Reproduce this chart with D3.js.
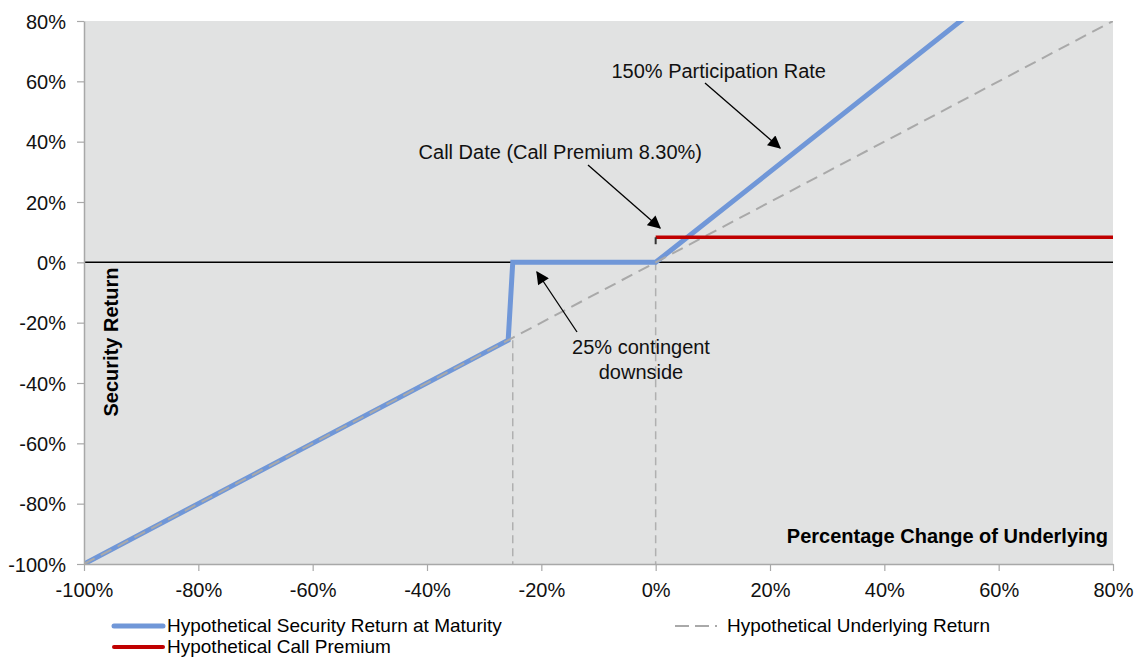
<!DOCTYPE html>
<html><head><meta charset="utf-8">
<script src="https://cdn.jsdelivr.net/npm/d3@7"></script>
<style>body{margin:0;background:#fff;} text{font-family:"Liberation Sans",Arial,sans-serif;}</style>
</head><body>
<svg id="c" width="1135" height="658"></svg>
<script>
const xTicks = [-100,-80,-60,-40,-20,0,20,40,60,80];
const yTicks = [-100,-80,-60,-40,-20,0,20,40,60,80];
const securityX = [-100,-25.8,-25,0,80];
const securityY = [-100,-25.8,0,0,120];
const underlyingX = [-100,80];
const underlyingY = [-100,80];
const premiumX = [0,80];
const premiumY = [8.3,8.3];
const seriesNames = ["Hypothetical Security Return at Maturity","Hypothetical Underlying Return","Hypothetical Call Premium"];

const svg = d3.select("#c");
const L=84,R=1113,T=21,B=564;
const x = d3.scaleLinear().domain([-100,80]).range([L,R]);
const y = d3.scaleLinear().domain([-100,80]).range([B,T]);

const defs = svg.append("defs");
defs.append("clipPath").attr("id","clip").append("rect").attr("x",L).attr("y",T).attr("width",R-L).attr("height",B-T);
defs.append("marker").attr("id","arr").attr("viewBox","0 0 10 10").attr("refX",9).attr("refY",5)
  .attr("markerWidth",14).attr("markerHeight",13).attr("markerUnits","userSpaceOnUse").attr("orient","auto")
  .append("path").attr("d","M0,0L10,5L0,10z").attr("fill","#000");

svg.append("rect").attr("x",L).attr("y",T).attr("width",R-L).attr("height",B-T).attr("fill","#e1e2e2");

const g = svg.append("g").attr("clip-path","url(#clip)");
const line = d3.line().x(d=>x(d[0])).y(d=>y(d[1]));

// vertical dashed references
g.append("line").attr("x1",x(-25)).attr("x2",x(-25)).attr("y1",y(-25.8)).attr("y2",y(-100))
  .attr("stroke","#b0b0b0").attr("stroke-width",1.5).attr("stroke-dasharray","8,5");
g.append("line").attr("x1",x(0)).attr("x2",x(0)).attr("y1",y(0)).attr("y2",y(-100))
  .attr("stroke","#b0b0b0").attr("stroke-width",1.5).attr("stroke-dasharray","8,5");

// zero line
g.append("line").attr("x1",L).attr("x2",R).attr("y1",y(0)).attr("y2",y(0)).attr("stroke","#000").attr("stroke-width",1.5);

// security
g.append("path").datum(securityX.map((v,i)=>[v,securityY[i]])).attr("d",line)
  .attr("fill","none").attr("stroke","#7097d8").attr("stroke-width",5).attr("stroke-linejoin","miter");
// underlying
g.append("path").datum(underlyingX.map((v,i)=>[v,underlyingY[i]])).attr("d",line)
  .attr("fill","none").attr("stroke","#a9a9a9").attr("stroke-width",2).attr("stroke-dasharray","12,7");
// premium
g.append("path").datum(premiumX.map((v,i)=>[v,premiumY[i]])).attr("d",line)
  .attr("fill","none").attr("stroke","#c00000").attr("stroke-width",3.5);
g.append("line").attr("x1",x(0)).attr("x2",x(0)).attr("y1",y(8.3)).attr("y2",y(6)).attr("stroke","#333").attr("stroke-width",2);

// axes
const xa = svg.append("g").attr("transform",`translate(0,${B})`)
  .call(d3.axisBottom(x).tickValues(xTicks).tickFormat(d=>d+"%").tickSize(7).tickSizeOuter(0));
const ya = svg.append("g").attr("transform",`translate(${L},0)`)
  .call(d3.axisLeft(y).tickValues(yTicks).tickFormat(d=>d+"%").tickSize(7).tickSizeOuter(0));
[xa,ya].forEach(a=>{a.select(".domain").attr("stroke","#a8a8a8").attr("stroke-width",1.5);
  a.selectAll(".tick line").attr("stroke","#a8a8a8").attr("stroke-width",1.2);
  a.selectAll("text").attr("font-size",20).attr("fill","#111");});
xa.selectAll("text").attr("y",19).attr("dy","0.71em");
ya.selectAll("text").attr("x",-18).attr("dy","0.35em");

// axis titles
svg.append("text").attr("x",1108).attr("y",543).attr("text-anchor","end").attr("font-weight","bold").attr("font-size",20).text("Percentage Change of Underlying");
svg.append("text").attr("transform","translate(118,342) rotate(-90)").attr("text-anchor","middle").attr("font-weight","bold").attr("font-size",20).text("Security Return");

// annotations
const ann = (t,xx,yy,anchor)=>svg.append("text").attr("x",xx).attr("y",yy).attr("text-anchor",anchor||"middle").attr("font-size",20).attr("fill","#111").text(t);
ann("150% Participation Rate",826,78,"end");
ann("Call Date (Call Premium 8.30%)",702,159,"end");
ann("25% contingent",641,354);
ann("downside",641,379);
const arrow=(x1,y1,x2,y2)=>svg.append("line").attr("x1",x1).attr("y1",y1).attr("x2",x2).attr("y2",y2)
  .attr("stroke","#000").attr("stroke-width",1.3).attr("marker-end","url(#arr)");
arrow(705,83,780,148);
arrow(588,165,660,228);
arrow(577,332,537,272);

// legend
const lg = svg.append("g");
lg.append("line").attr("x1",114).attr("x2",163).attr("y1",626).attr("y2",626).attr("stroke","#7097d8").attr("stroke-width",5).attr("stroke-linecap","round");
lg.append("text").attr("x",167).attr("y",632).attr("font-size",19).text(seriesNames[0]);
lg.append("line").attr("x1",675).attr("x2",723).attr("y1",626).attr("y2",626).attr("stroke","#a9a9a9").attr("stroke-width",2).attr("stroke-dasharray","14,6,14,6,2");
lg.append("text").attr("x",727).attr("y",632).attr("font-size",19).text(seriesNames[1]);
lg.append("line").attr("x1",114).attr("x2",163).attr("y1",647).attr("y2",647).attr("stroke","#c00000").attr("stroke-width",4).attr("stroke-linecap","round");
lg.append("text").attr("x",167).attr("y",653).attr("font-size",19).text(seriesNames[2]);
</script>
</body></html>
